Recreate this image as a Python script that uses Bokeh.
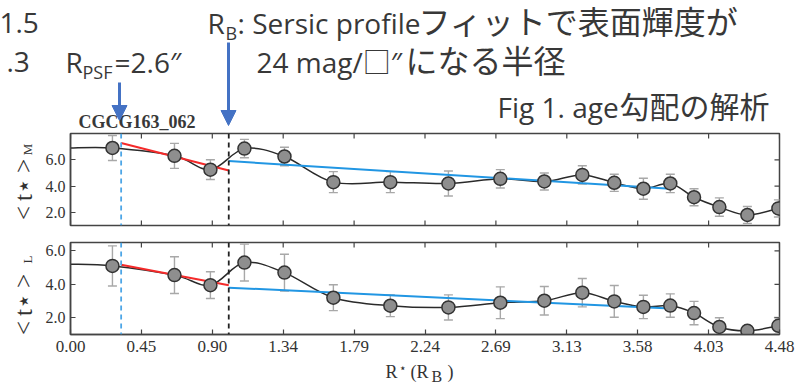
import numpy as np
from bokeh.plotting import figure
from bokeh.models import (Range1d, FixedTicker, Label, Span, Whisker,
                          TeeHead, ColumnDataSource, Arrow, NormalHead)
from bokeh.layouts import column, row
from bokeh.embed import file_html
from bokeh.resources import INLINE

# ---------------- data ----------------
radius = [0.265, 0.657, 0.884, 1.099, 1.352, 1.661, 2.021, 2.388, 2.716,
          2.994, 3.234, 3.436, 3.62, 3.79, 3.94, 4.10, 4.277, 4.473]
age_mass = [6.9, 6.3, 5.25, 6.85, 6.25, 4.3, 4.3, 4.2, 4.55,
            4.35, 4.85, 4.25, 3.8, 4.2, 3.15, 2.4, 1.8, 2.3]
err_mass = [0.95, 0.95, 0.75, 0.7, 0.7, 0.8, 0.8, 0.95, 0.7,
            0.65, 0.7, 0.65, 0.8, 0.7, 0.65, 0.7, 0.65, 0.65]
age_light = [5.1, 4.55, 3.95, 5.3, 4.7, 3.2, 2.72, 2.62, 2.9,
             3.02, 3.5, 2.98, 2.65, 2.73, 2.28, 1.45, 1.22, 1.52]
err_light = [1.2, 1.1, 0.8, 1.1, 1.1, 0.77, 0.65, 0.75, 0.95,
             0.85, 0.85, 0.95, 0.7, 0.7, 0.7, 0.55, 0.3, 0.5]
curve_start_mass = 6.9
curve_start_light = 5.2

r_psf = 0.32
r_b = 1.0
fit_inner_x = [0.32, 1.0]
fit_outer_x = [1.0, 3.79]
fit_inner_mass = [7.28, 5.19]
fit_outer_mass = [5.9, 3.8]
fit_inner_light = [5.17, 3.94]
fit_outer_light = [3.8, 2.55]

x_ticks = [0.0, 0.448, 0.896, 1.344, 1.792, 2.24, 2.688, 3.136, 3.584, 4.032, 4.48]
x_tick_labels = ["0.00", "0.45", "0.90", "1.34", "1.79", "2.24", "2.69",
                 "3.13", "3.58", "4.03", "4.48"]
y_ticks = [2.0, 4.0, 6.0]
y_tick_labels = ["2.0", "4.0", "6.0"]

# ---------------- styles / layout geometry (page pixels) ----------------
SERIF = "Liberation Serif"
JP = "Open Sans, Noto Sans CJK JP"
TXT = "#383838"
AX = "#444444"
ARROW = "#4472c4"
X0, X1 = 0.0, 4.48
W = 802
STRIP_W = 40          # left strip holding the rotated y titles
BORDER_L = 30         # panel border for y tick labels (frame starts at x=70)
BORDER_R = 23         # frame ends at x=779
HEADER_H = 131
FOOTER_TOP = 358


def base(y, fs):
    """baseline position corrected for how the label is anchored"""
    return y - 0.36 * fs


def style_axis(ax, ticks, labels, size, standoff):
    ax.ticker = FixedTicker(ticks=ticks)
    ax.major_label_overrides = dict(zip(ticks, labels))
    ax.major_tick_in = 5
    ax.major_tick_out = 0
    ax.minor_tick_in = 0
    ax.minor_tick_out = 0
    ax.axis_line_color = AX
    ax.axis_line_width = 1.5
    ax.major_tick_line_color = AX
    ax.major_tick_line_width = 1.2
    ax.major_label_text_font = SERIF
    ax.major_label_text_font_size = size
    ax.major_label_text_color = "#333333"
    ax.major_label_standoff = standoff


def catmull_bezier(xs, ys):
    P = np.column_stack([xs, ys]).astype(float)
    E = np.vstack([P[0], P, P[-1]])
    p0, p1, p2, p3 = E[:-3], E[1:-2], E[2:-1], E[3:]
    c0 = p1 + (p2 - p0) / 6.0
    c1 = p2 - (p3 - p1) / 6.0
    return dict(x0=p1[:, 0], y0=p1[:, 1], x1=p2[:, 0], y1=p2[:, 1],
                cx0=c0[:, 0], cy0=c0[:, 1], cx1=c1[:, 0], cy1=c1[:, 1])


def blank(width, height, xr, yr, left=0, right=0):
    f = figure(width=width, height=height, x_range=Range1d(*xr), y_range=Range1d(*yr),
               output_backend="svg", toolbar_location=None, title=None,
               min_border=0, min_border_left=left, min_border_right=right,
               min_border_top=0, min_border_bottom=0,
               x_axis_type=None, y_axis_type=None)
    f.outline_line_color = None
    f.background_fill_color = "white"
    f.border_fill_color = "white"
    return f


def panel(height, top, bottom, yr, ages, errs, start, fin, fout, show_x):
    p = figure(width=W - STRIP_W, height=height, x_range=Range1d(X0, X1),
               y_range=Range1d(*yr), output_backend="svg", toolbar_location=None,
               title=None, min_border_left=BORDER_L, min_border_right=BORDER_R,
               min_border_top=top, min_border_bottom=bottom)
    p.background_fill_color = "white"
    p.border_fill_color = "white"
    p.outline_line_color = AX
    p.outline_line_width = 1.5
    p.xgrid.visible = False
    p.ygrid.visible = False
    style_axis(p.yaxis[0], y_ticks, y_tick_labels, "16px", 5)
    if show_x:
        style_axis(p.xaxis[0], x_ticks, x_tick_labels, "17px", 6)
    else:
        p.xaxis.visible = False
        p.scatter(x_ticks, [yr[0]] * len(x_ticks), marker="dash", angle=np.pi / 2,
                  size=10, line_color=AX, line_width=1.2)
    # inward ticks on the top and right frame edges
    p.scatter(x_ticks, [yr[1]] * len(x_ticks), marker="dash", angle=np.pi / 2,
              size=10, line_color=AX, line_width=1.2)
    p.scatter([X1] * len(y_ticks), y_ticks, marker="dash",
              size=10, line_color=AX, line_width=1.2)

    src = ColumnDataSource(dict(
        x=radius, y=ages,
        lower=[a - e for a, e in zip(ages, errs)],
        upper=[a + e for a, e in zip(ages, errs)]))
    gray = "#a8a8a8"
    p.add_layout(Whisker(source=src, base="x", lower="lower", upper="upper",
                         line_color=gray, line_width=1.4,
                         upper_head=TeeHead(size=9, line_color=gray, line_width=1.4),
                         lower_head=TeeHead(size=9, line_color=gray, line_width=1.4)))

    p.add_layout(Span(location=r_psf, dimension="height", line_color="#4da6e6",
                      line_dash="5 4", line_width=1.8))
    p.add_layout(Span(location=r_b, dimension="height", line_color="#222222",
                      line_dash="5 4", line_width=1.8))

    bz = catmull_bezier([0.0] + radius, [start] + ages)
    p.bezier(source=ColumnDataSource(bz), x0="x0", y0="y0", x1="x1", y1="y1",
             cx0="cx0", cy0="cy0", cx1="cx1", cy1="cy1",
             line_color="#2a2a2a", line_width=1.5)

    p.line(fit_inner_x, fin, line_color="#f42a2a", line_width=2)
    p.line(fit_outer_x, fout, line_color="#2196e3", line_width=2)

    p.scatter("x", "y", source=src, size=13, fill_color="#8e8e8e",
              line_color="#333333", line_width=1.5)
    return p


# top panel: page y 131..234 (frame 133..225); bottom: 234..358 (frame 242..334)
top = panel(103, 2, 9, (1.0, 8.0), age_mass, err_mass, curve_start_mass,
            fit_inner_mass, fit_outer_mass, False)
bot = panel(FOOTER_TOP - 234, 8, FOOTER_TOP - 334, (1.0, 6.5), age_light, err_light,
            curve_start_light, fit_inner_light, fit_outer_light, True)

# footer with the x-axis title, data coordinates = page pixels
footer = blank(W - STRIP_W, 389 - FOOTER_TOP, (70, 779), (389, FOOTER_TOP),
               BORDER_L, BORDER_R)
for txt, px, py, fs in [("R", 385, 378, 18), ("⋆", 398, 372, 12),
                        ("(R", 410, 378, 18), ("B", 431, 382, 16),
                        (")", 447, 378, 18)]:
    footer.add_layout(Label(x=px, y=base(py, fs), text=txt, text_font=SERIF,
                            text_font_size=f"{fs}px", text_color="#333333",
                            text_baseline="alphabetic"))

# left strip with the rotated y titles, data coordinates = page pixels
strip = blank(STRIP_W, 389 - HEADER_H, (0, STRIP_W), (389, HEADER_H))
for txt, px, py, fs in [("<\u2009t⋆\u2009>", 23, 189, 25), ("M", 27, 149, 13),
                        ("<\u2009t⋆\u2009>", 23, 304, 25), ("L", 27, 259, 13)]:
    strip.add_layout(Label(x=px, y=py, text=txt, angle=np.pi / 2,
                           text_align="center", text_baseline="middle",
                           text_font=SERIF, text_font_size=f"{fs}px",
                           text_color="#333333"))

# ---------------- slide header, data coordinates = page pixels ----------------
header = blank(W, HEADER_H, (0, W), (HEADER_H, 0))
header_texts = [
    ("1.5", -1, 33, 28, JP, "normal"),
    (".3", 6, 72, 28, JP, "normal"),
    ("R", 207, 33, 28, JP, "normal"),
    ("B", 225, 39, 18, JP, "normal"),
    (": Sersic profile", 237, 33, 28, JP, "normal"),
    ("フィットで表面輝度が", 418, 33, 32, JP, "normal"),
    ("24 mag/□″", 256, 72, 28, JP, "normal"),
    ("になる半径", 405, 72, 32, JP, "normal"),
    ("R", 65, 72, 28, JP, "normal"),
    ("PSF", 82, 78, 18, JP, "normal"),
    ("=2.6″", 114, 72, 28, JP, "normal"),
    ("Fig 1. age", 497, 117, 28, JP, "normal"),
    ("勾配の解析", 619, 117, 30, JP, "normal"),
    ("CGCG163_062", 78, 128, 18, SERIF, "bold"),
]
for txt, x, y, fs, font, style in header_texts:
    header.add_layout(Label(x=x, y=base(y, fs), text=txt, text_font=font,
                            text_font_size=f"{fs}px", text_font_style=style,
                            text_color=TXT, text_baseline="alphabetic",
                            text_align="left"))

for x, y0, y1 in [(119, 82, 120), (228, 42, 125)]:
    header.add_layout(Arrow(x_start=x, y_start=y0, x_end=x, y_end=y1,
                            line_color=ARROW, line_width=3,
                            end=NormalHead(size=15, fill_color=ARROW, line_color=ARROW)))

layout = column(header, row(strip, column(top, bot, footer, spacing=0), spacing=0),
                spacing=0)
open("out.html", "w").write(file_html(layout, INLINE))
